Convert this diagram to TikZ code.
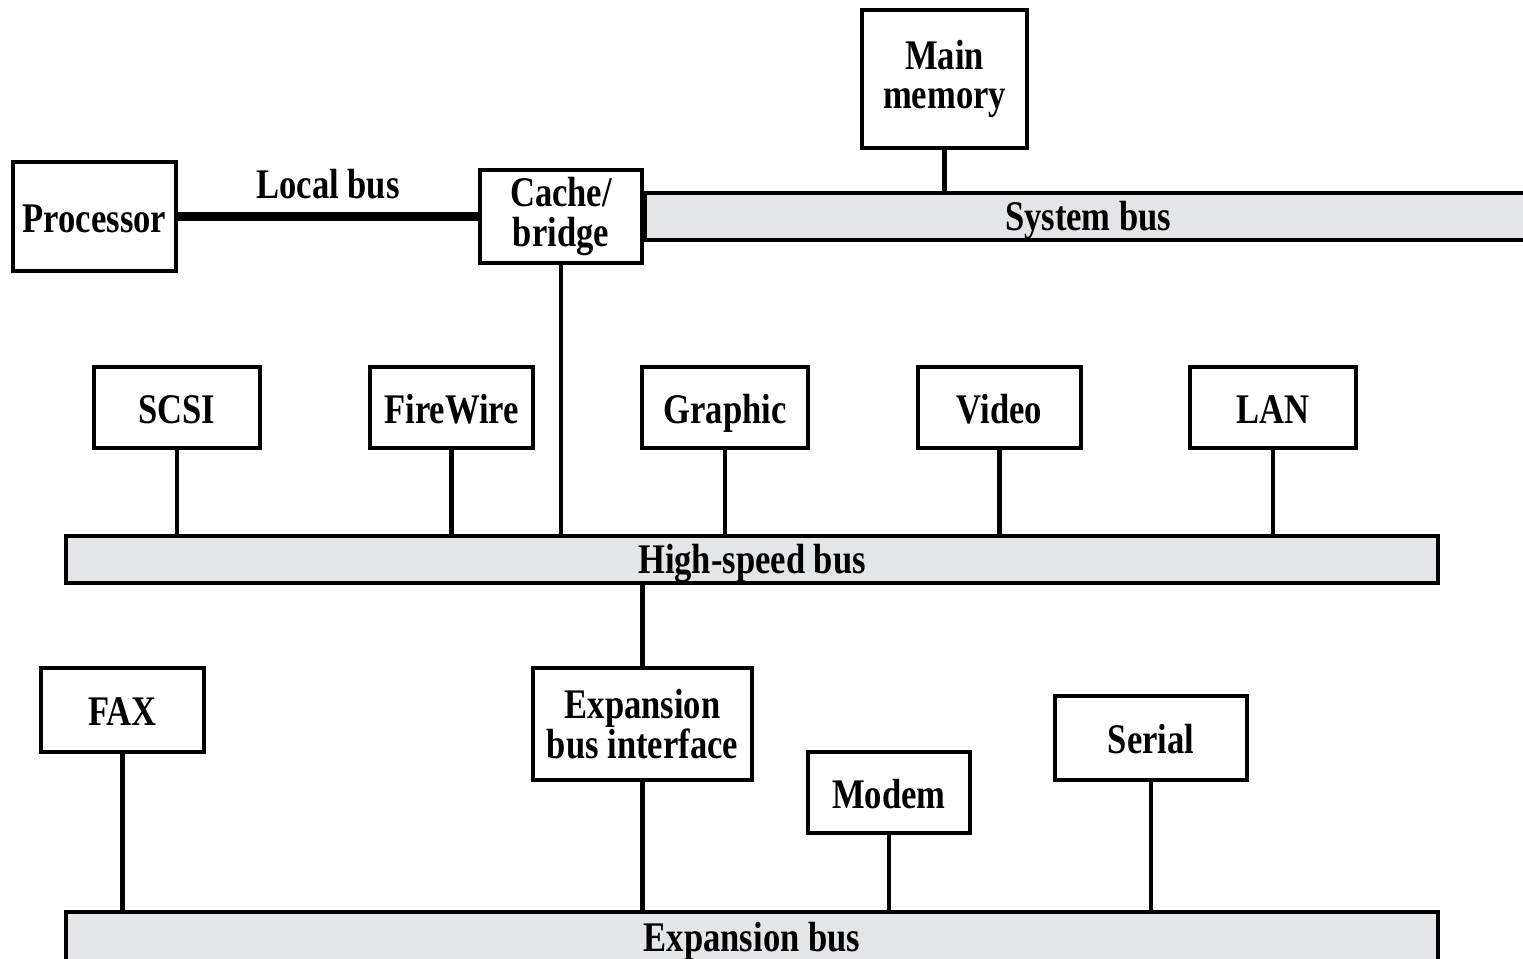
\documentclass[tikz,border=0pt]{standalone}
\usepackage{fontspec}
\setmainfont{Liberation Serif}[FakeStretch=0.82]
\usepackage{tikz}
\usetikzlibrary{positioning}

\definecolor{busgray}{RGB}{228,229,231}

\tikzset{
  unit/.style={draw, line width=0.9pt, fill=white, inner sep=0pt, align=center},
  oneline/.style={text height=9pt, text depth=0pt},
  bus/.style={draw, line width=0.9pt, fill=busgray, inner sep=0pt, minimum height=0.47cm, text height=8pt, text depth=0pt},
  wire/.style={line width=1.2pt},
  localwire/.style={line width=2.6pt}
}

\begin{document}
\begin{tikzpicture}[font=\fontsize{12}{11.2}\selectfont\bfseries]
            \useasboundingbox (0,0) rectangle (15.23,9.59);
            \clip (0,0) rectangle (15.23,9.59);
            % top: processor, cache and memory
            \node[unit, oneline, minimum width=1.63cm, minimum height=1.09cm] (proc) at (0.945,7.425) {Processor};
            \node[unit, minimum width=1.62cm, minimum height=0.93cm] (cache) at (5.61,7.425) {Cache/\\bridge};
            \node[unit, minimum width=1.65cm, minimum height=1.38cm] (mem) at (9.445,8.80) {Main\\memory};
            \node[bus, minimum width=8.86cm, anchor=west] (sysbus) at (cache.east) {System bus};
            \draw[localwire] (proc.east) -- (cache.west);
            \node[oneline] (locallbl) at (3.28,7.76) {Local bus};
            \draw[wire] (mem.south) -- (mem.south |- sysbus.north);
            % high-speed bus and its devices
            \node[bus, minimum width=13.72cm] (hsbus) at (7.52,3.995) {High-speed bus};
            \node[unit, oneline, minimum width=1.66cm, minimum height=0.81cm] (scsi) at (1.77,5.515) {SCSI};
            \node[unit, oneline, minimum width=1.63cm, minimum height=0.81cm] (fw) at (4.515,5.515) {FireWire};
            \node[unit, oneline, minimum width=1.66cm, minimum height=0.81cm] (graph) at (7.25,5.515) {Graphic};
            \node[unit, oneline, minimum width=1.63cm, minimum height=0.81cm] (video) at (9.995,5.515) {Video};
            \node[unit, oneline, minimum width=1.66cm, minimum height=0.81cm] (lan) at (12.73,5.515) {LAN};
            \foreach \dev in {scsi,fw,graph,video,lan}
              \draw[wire] (\dev.south) -- (\dev.south |- hsbus.north);
            \draw[wire] (cache.south) -- (cache.south |- hsbus.north);
            % expansion bus and its devices
            \node[bus, minimum width=13.72cm, minimum height=0.5cm] (expbus) at (7.52,0.22) {Expansion bus};
            \node[unit, minimum width=2.19cm, minimum height=1.12cm] (ebi) at (6.425,2.35) {Expansion\\bus interface};
            \node[unit, oneline, minimum width=1.63cm, minimum height=0.84cm] (fax) at (1.225,2.49) {FAX};
            \node[unit, oneline, minimum width=1.62cm, minimum height=0.81cm] (modem) at (8.89,1.665) {Modem};
            \node[unit, oneline, minimum width=1.92cm, minimum height=0.84cm] (serial) at (11.51,2.21) {Serial};
            \draw[wire] (ebi.north) -- (ebi.north |- hsbus.south);
            \foreach \dev in {fax,ebi,modem,serial}
              \draw[wire] (\dev.south) -- (\dev.south |- expbus.north);
        \end{tikzpicture}
\end{document}
